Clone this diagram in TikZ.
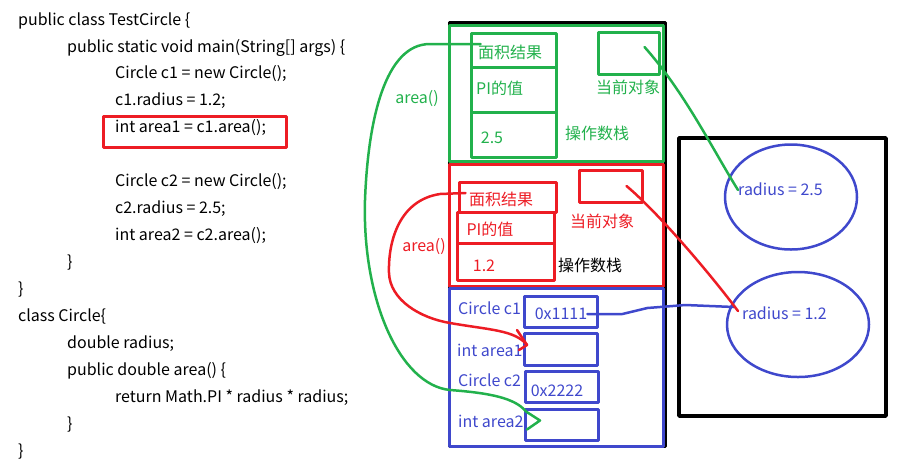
\documentclass[tikz,border=0pt]{standalone}
\usepackage{fontspec}
\setmainfont{Noto Sans CJK SC}
\usetikzlibrary{shapes.geometric}
\definecolor{pgreen}{HTML}{22B14C}
\definecolor{pred}{HTML}{ED1C24}
\definecolor{pblue}{HTML}{3F48CC}

\begin{document}
\begin{tikzpicture}[x=1pt,y=-1pt,line join=round,
  every node/.style={inner sep=0pt,font=\fontsize{16}{16}\selectfont,text height=10.5pt,text depth=0pt},
  codeline/.style={anchor=west},
  cell/.style={draw,line width=3pt,minimum width=#1},
  gcell/.style={cell=85,draw=pgreen},
  rcell/.style={cell=97,draw=pred},
  bcell/.style={cell=73,draw=pblue,minimum height=31},
  gtxt/.style={text=pgreen},
  rtxt/.style={text=pred},
  btxt/.style={text=pblue},
  hand/.style={line width=2.5pt,line cap=round},
  frame/.style={draw=#1,line width=3pt,minimum width=214}]
\useasboundingbox (0,0) rectangle (904,467);

% code
\node[codeline] (l1) at (18,20) {public class TestCircle \{};
\node[codeline] (l2) at (67,47) {public static void main(String[] args) \{};
\node[codeline] (l3) at (115,73) {Circle c1 = new Circle();};
\node[codeline] (l4) at (115,100) {c1.radius = 1.2;};
\node[codeline] (l5) at (115,127) {int area1 = c1.area();};
\node[codeline] (l6) at (115,181) {Circle c2 = new Circle();};
\node[codeline] (l7) at (115,208) {c2.radius = 2.5;};
\node[codeline] (l8) at (115,235) {int area2 = c2.area();};
\node[codeline] (l9) at (67,262) {\}};
\node[codeline] (l10) at (18,289) {\}};
\node[codeline] (l11) at (18,316) {class Circle\{};
\node[codeline] (l12) at (67,343) {double radius;};
\node[codeline] (l13) at (67,370) {public double area() \{};
\node[codeline] (l14) at (115,397) {return Math.PI * radius * radius;};
\node[codeline] (l15) at (67,424) {\}};
\node[codeline] (l16) at (18,451) {\}};
\node[draw=pred,line width=3pt,minimum width=183,minimum height=31] (hl) at (194.5,131.5) {};

% stack
\draw[line width=3pt] (449,22) rectangle (665,446);
\node[frame=pgreen,minimum height=136] (gframe) at (556,93) {};
\node[frame=pred,minimum height=122] (rframe) at (556,225) {};
\node[frame=pblue,minimum height=158] (bframe) at (556,367) {};

\node[gcell,minimum height=34] (gres) at (513.5,50) {};
\node[gcell,minimum height=45] (gpi) at (513.5,89.5) {};
\node[gcell,minimum height=45] (gval) at (513.5,134.5) {};
\node[draw=pgreen,line width=3pt,minimum width=61,minimum height=42] (gself) at (628.5,53) {};
\node[gtxt] at (510,53) {面积结果};
\node[gtxt,anchor=west] at (476,89) {PI的值};
\node[gtxt] at (492,138) {2.5};
\node[gtxt] at (628,88) {当前对象};
\node[gtxt] at (597,134) {操作数栈};
\node[gtxt] (garea) at (417,98) {area()};

\node[rcell,minimum height=30] (rres) at (507.5,197) {};
\node[rcell,minimum height=31] (rpi) at (505.5,227.5) {};
\node[rcell,minimum height=37] (rval) at (505.5,261.5) {};
\node[draw=pred,line width=3pt,minimum width=63,minimum height=32] (rself) at (610.5,186) {};
\node[rtxt] at (501,200) {面积结果};
\node[rtxt] at (490,230) {PI的值};
\node[rtxt] at (484,266) {1.2};
\node[rtxt] at (602,222) {当前对象};
\node at (590,266) {操作数栈};
\node[rtxt] (rarea) at (424,246) {area()};

\node[bcell] (bc1) at (560.5,311.5) {};
\node[bcell,minimum height=32] (ba1) at (561,349) {};
\node[bcell] (bc2) at (562,386.5) {};
\node[bcell] (ba2) at (562,424.5) {};
\node[btxt,anchor=west] at (458,309) {Circle c1};
\node[btxt] (t1111) at (561,314) {0x1111};
\node[btxt,anchor=west] at (457,351) {int area1};
\node[btxt,anchor=west] at (458,381) {Circle c2};
\node[btxt] at (557,391) {0x2222};
\node[btxt,anchor=west] at (458,422) {int area2};

% heap
\draw[line width=3.5pt] (679,138) rectangle (886,416);
\node[ellipse,draw=pblue,line width=2.5pt,minimum width=132,minimum height=105] (obj2) at (791,197) {};
\node[ellipse,draw=pblue,line width=2.5pt,minimum width=142,minimum height=105] (obj1) at (798,324.5) {};
\node[btxt,anchor=west] (r25) at (738,190) {radius = 2.5};
\node[btxt,anchor=west] (r12) at (742,314) {radius = 1.2};

% references
\draw[hand,pblue] (t1111.east) -- ++(35,0) -- ++(25,-6) -- ++(38,-3) -- ([xshift=-8pt,yshift=7pt]r12.west);
\draw[hand,pred] ([xshift=16pt]rself.center) .. controls +(30,25) and +(-30,-40) .. ([xshift=-4pt,yshift=3pt]r12.west);
\draw[hand,pgreen] ([xshift=16pt,yshift=6pt]gself.center) .. controls +(40,45) and +(-25,-40) .. (r25.west);

% calls
\draw[hand,pgreen] ([xshift=11pt,yshift=6pt]gres.west) -- (430,44)
  .. controls (385,44) and (368,120) .. (365,200)
  .. controls (362,300) and (400,385) .. (450,390)
  .. controls (490,393) and (515,398) .. ([xshift=2pt,yshift=13pt]ba2.west)
  -- ([xshift=16pt,yshift=4pt]ba2.west) -- ([xshift=3pt,yshift=-5pt]ba2.west);
\draw[hand,pred] ([xshift=8pt,yshift=4pt]rres.west) -- (440,194)
  .. controls (400,200) and (388,240) .. (389,273)
  .. controls (390,300) and (420,318) .. (450,323)
  .. controls (490,330) and (515,330) .. ([xshift=4pt,yshift=4pt]ba1.west)
  -- ([xshift=-4pt,yshift=-1pt]ba1.west);
\draw[hand,pred] ([xshift=-6pt,yshift=19pt]ba1.west) -- ([xshift=4pt,yshift=4pt]ba1.west);
\end{tikzpicture}
\end{document}
